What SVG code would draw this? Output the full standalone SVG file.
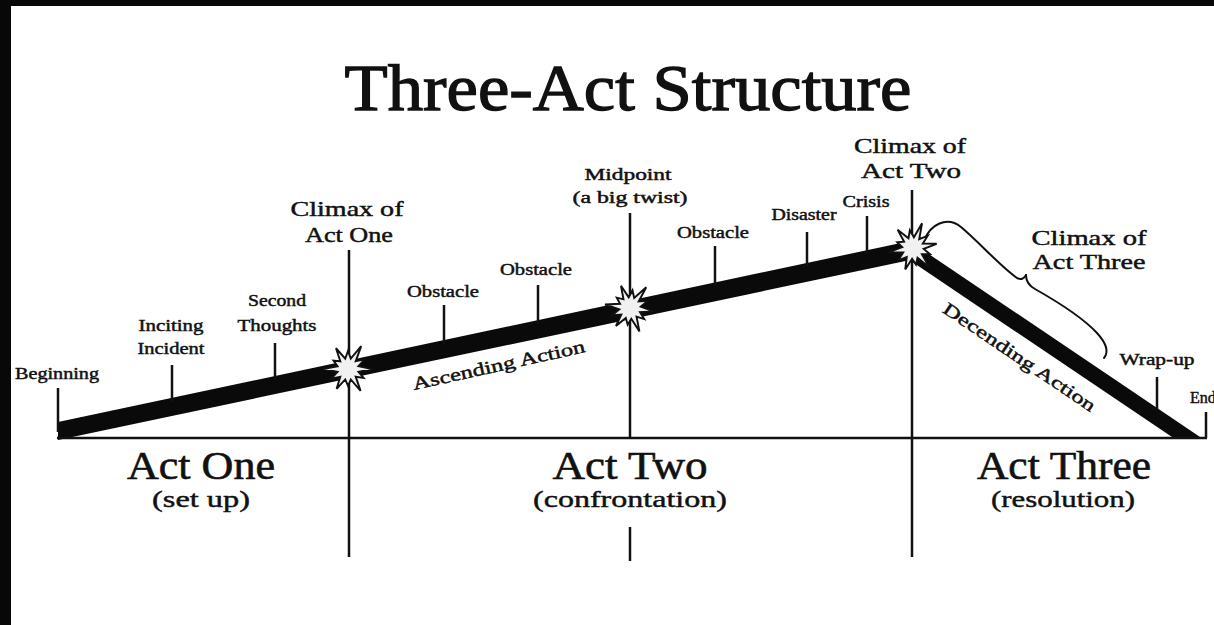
<svg xmlns="http://www.w3.org/2000/svg" xmlns:xlink="http://www.w3.org/1999/xlink" width="1214" height="625" viewBox="0 0 1214 625">
  <style>
    text { font-family: "Liberation Serif", "DejaVu Serif", serif; fill: #111; stroke: #111; stroke-width: 0.45; text-anchor: middle; }
    .small { font-size: 16px; }
    .mid { font-size: 21px; }
    .act { font-size: 40px; stroke-width: 0.6; }
    .sub { font-size: 24px; }
    .title { font-size: 66px; stroke-width: 1.3; }
    .rule { stroke: #111; stroke-width: 2.5; fill: none; }
    .bar { fill: #0a0a0a; }
    .burst { fill: #f1f1f1; stroke: #111; stroke-width: 1.6; stroke-linejoin: miter; }
    .brace { stroke: #111; stroke-width: 2; fill: none; stroke-linecap: round; }
  </style>
  <defs>
    <path id="star" d="M20 0 L8.7 2.3 L13 7.5 L6.4 6.4 L10.5 18.2 L2.3 8.7 L0 14 L-2.3 8.7 L-9.5 16.5 L-6.4 6.4 L-13.9 8 L-8.7 2.3 L-21 0 L-8.7 -2.3 L-12.1 -7 L-6.4 -6.4 L-10 -17.3 L-2.3 -8.7 L0 -15 L2.3 -8.7 L11 -19 L6.4 -6.4 L13.9 -8 L8.7 -2.3 Z"/>
  </defs>

  <rect width="1214" height="625" fill="#ffffff"/>
  <!-- black edge of the sheet -->
  <g id="frame">
    <rect x="0" y="0" width="1214" height="6" fill="#080808"/>
    <rect x="0" y="0" width="11" height="625" fill="#080808"/>
  </g>

  <g id="title">
    <text class="title" x="628" y="110" textLength="567" lengthAdjust="spacingAndGlyphs">Three-Act Structure</text>
  </g>

  <g id="connectors">
    <!-- rising and falling action bars -->
    <polygon class="bar" points="58,422 915,240 915,259 58,440"/>
    <polygon class="bar" points="905,238 1203,439 1175,439 905,257"/>
    <!-- time axis -->
    <line class="rule" x1="57" y1="438" x2="1207" y2="438"/>
    <!-- act dividers -->
    <line class="rule" x1="349" y1="250" x2="349" y2="557"/>
    <line class="rule" x1="630" y1="213" x2="630" y2="438"/>
    <line class="rule" x1="630" y1="527" x2="630" y2="561"/>
    <line class="rule" x1="912" y1="190" x2="912" y2="557"/>
    <!-- plot point ticks -->
    <line class="rule" x1="58" y1="388" x2="58" y2="432"/>
    <line class="rule" x1="172" y1="365" x2="172" y2="402"/>
    <line class="rule" x1="275" y1="343" x2="275" y2="380"/>
    <line class="rule" x1="444" y1="305" x2="444" y2="344"/>
    <line class="rule" x1="538" y1="285" x2="538" y2="324"/>
    <line class="rule" x1="715" y1="246" x2="715" y2="286"/>
    <line class="rule" x1="807" y1="232" x2="807" y2="266"/>
    <line class="rule" x1="867" y1="216" x2="867" y2="254"/>
    <line class="rule" x1="1157" y1="377" x2="1157" y2="410"/>
    <line class="rule" x1="1206" y1="412" x2="1206" y2="438"/>
    <!-- brace over the climax of act three -->
    <path class="brace" d="M924 241 C930 224 947 216 961 227 C980 243 1000 266 1017 278 Q1023 281 1026 275"/>
    <path class="brace" d="M1026 275 Q1026 284 1035 289 C1058 302 1084 319 1097 333 C1107 344 1109 352 1104 358"/>
  </g>

  <g id="burst-act-one"><use xlink:href="#star" href="#star" class="burst" transform="translate(348 369) scale(1.2)"/></g>
  <g id="burst-midpoint"><use xlink:href="#star" href="#star" class="burst" transform="translate(630 308) rotate(8) scale(1.2)"/></g>
  <g id="burst-act-two"><use xlink:href="#star" href="#star" class="burst" transform="translate(913 248) rotate(-10) scale(1.2)"/></g>

  <g id="label-beginning"><text class="small" x="57" y="379" textLength="84" lengthAdjust="spacingAndGlyphs">Beginning</text></g>
  <g id="label-inciting">
    <text class="small" x="171" y="331" textLength="65" lengthAdjust="spacingAndGlyphs">Inciting</text>
    <text class="small" x="171" y="354" textLength="67" lengthAdjust="spacingAndGlyphs">Incident</text>
  </g>
  <g id="label-second-thoughts">
    <text class="small" x="277" y="306" textLength="58" lengthAdjust="spacingAndGlyphs">Second</text>
    <text class="small" x="277" y="331" textLength="79" lengthAdjust="spacingAndGlyphs">Thoughts</text>
  </g>
  <g id="label-climax-one">
    <text class="mid" x="347" y="216" textLength="113" lengthAdjust="spacingAndGlyphs">Climax of</text>
    <text class="mid" x="349" y="242" textLength="88" lengthAdjust="spacingAndGlyphs">Act One</text>
  </g>
  <g id="label-obstacle-1"><text class="small" x="443" y="297" textLength="72" lengthAdjust="spacingAndGlyphs">Obstacle</text></g>
  <g id="label-obstacle-2"><text class="small" x="536" y="275" textLength="72" lengthAdjust="spacingAndGlyphs">Obstacle</text></g>
  <g id="label-midpoint">
    <text class="small" x="628" y="180" textLength="87" lengthAdjust="spacingAndGlyphs">Midpoint</text>
    <text class="small" x="630" y="203" textLength="115" lengthAdjust="spacingAndGlyphs">(a big twist)</text>
  </g>
  <g id="label-obstacle-3"><text class="small" x="713" y="238" textLength="72" lengthAdjust="spacingAndGlyphs">Obstacle</text></g>
  <g id="label-disaster"><text class="small" x="804" y="220" textLength="65" lengthAdjust="spacingAndGlyphs">Disaster</text></g>
  <g id="label-crisis"><text class="small" x="866" y="207" textLength="47" lengthAdjust="spacingAndGlyphs">Crisis</text></g>
  <g id="label-climax-two">
    <text class="mid" x="910" y="153" textLength="112" lengthAdjust="spacingAndGlyphs">Climax of</text>
    <text class="mid" x="911" y="178" textLength="100" lengthAdjust="spacingAndGlyphs">Act Two</text>
  </g>
  <g id="label-climax-three">
    <text class="mid" x="1089" y="245" textLength="115" lengthAdjust="spacingAndGlyphs">Climax of</text>
    <text class="mid" x="1089" y="269" textLength="113" lengthAdjust="spacingAndGlyphs">Act Three</text>
  </g>
  <g id="label-wrap-up"><text class="small" x="1157" y="365" textLength="75" lengthAdjust="spacingAndGlyphs">Wrap-up</text></g>
  <g id="label-end"><text class="small" x="1190" y="403" style="text-anchor:start">End</text></g>

  <g id="label-ascending">
    <text class="small" transform="translate(500 371) rotate(-12.5)" textLength="176" lengthAdjust="spacingAndGlyphs" style="font-size:18px">Ascending Action</text>
  </g>
  <g id="label-descending">
    <text class="small" transform="translate(1016 362) rotate(34)" textLength="180" lengthAdjust="spacingAndGlyphs" style="font-size:18px">Decending Action</text>
  </g>

  <g id="act-one">
    <text class="act" x="201" y="479" textLength="148" lengthAdjust="spacingAndGlyphs">Act One</text>
    <text class="sub" x="201" y="507" textLength="98" lengthAdjust="spacingAndGlyphs">(set up)</text>
  </g>
  <g id="act-two">
    <text class="act" x="630" y="479" textLength="155" lengthAdjust="spacingAndGlyphs">Act Two</text>
    <text class="sub" x="630" y="507" textLength="194" lengthAdjust="spacingAndGlyphs">(confrontation)</text>
  </g>
  <g id="act-three">
    <text class="act" x="1064" y="479" textLength="174" lengthAdjust="spacingAndGlyphs">Act Three</text>
    <text class="sub" x="1063" y="507" textLength="144" lengthAdjust="spacingAndGlyphs">(resolution)</text>
  </g>
</svg>
